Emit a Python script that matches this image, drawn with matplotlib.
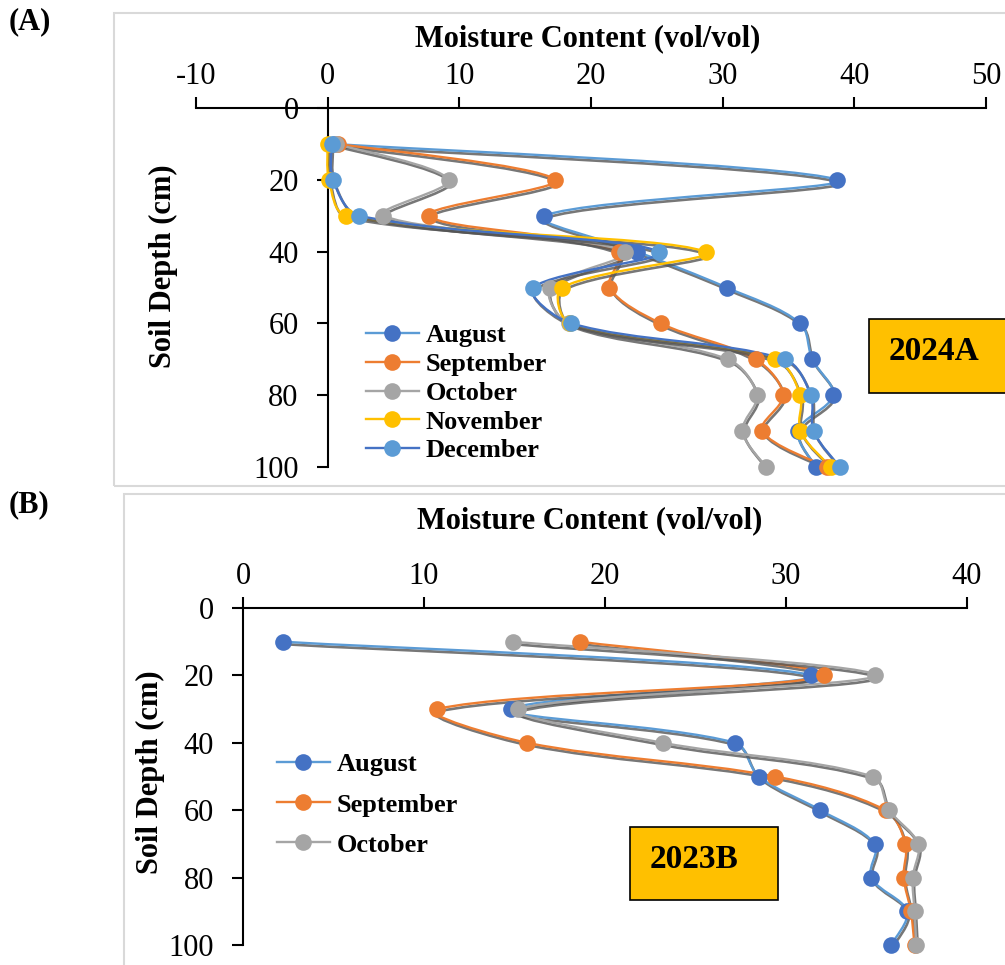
import numpy as np
import matplotlib
matplotlib.use('Agg')
import matplotlib.pyplot as plt
import matplotlib.transforms as mtrans
from matplotlib.path import Path
from matplotlib.patches import PathPatch, Rectangle
from matplotlib.lines import Line2D

plt.rcParams['font.family'] = ['Liberation Serif', 'DejaVu Serif']
plt.rcParams['axes.unicode_minus'] = False

# soil depth (cm), shared by both panels
depth = [10, 20, 30, 40, 50, 60, 70, 80, 90, 100]

# panel A (2024A) moisture content, vol/vol
months_a = ['August', 'September', 'October', 'November', 'December']
aug_a = [0.5, 38.7, 16.4, 23.5, 30.3, 35.9, 36.8, 38.4, 35.7, 37.1]
sep_a = [0.8, 17.3, 7.7, 22.1, 21.4, 25.3, 32.5, 34.6, 33.0, 37.9]
oct_a = [0.6, 9.2, 4.2, 22.6, 16.9, 18.3, 30.4, 32.6, 31.5, 33.3]
nov_a = [0.0, 0.1, 1.4, 28.7, 17.8, 18.4, 34.0, 35.9, 35.9, 38.2]
dec_a = [0.3, 0.4, 2.4, 25.2, 15.6, 18.5, 34.7, 36.7, 36.9, 38.9]

# panel B (2023B)
months_b = ['August', 'September', 'October']
aug_b = [2.2, 31.4, 14.8, 27.2, 28.5, 31.9, 34.9, 34.7, 36.7, 35.8]
sep_b = [18.6, 32.1, 10.7, 15.7, 29.4, 35.5, 36.6, 36.5, 36.9, 37.1]
oct_b = [14.9, 34.9, 15.2, 23.2, 34.8, 35.7, 37.3, 37.0, 37.1, 37.2]

# excel colours: (line colour, marker colour)
cols = {'August': ('#5B9BD5', '#4472C4'),
        'September': ('#ED7D31', '#ED7D31'),
        'October': ('#A5A5A5', '#A5A5A5'),
        'November': ('#FFC000', '#FFC000'),
        'December': ('#4472C4', '#5B9BD5')}

W, H = 1005, 965


def fx(px):
    return px / W


def fy(py):
    return 1 - py / H


def smooth_path(ax, x, y):
    # bezier smoothing done in pixel space, tangents weighted by segment length
    p = ax.transData.transform(np.column_stack([x, y]).astype(float))
    n = len(p)
    d = np.hypot(*np.diff(p, axis=0).T)
    verts = [p[0]]
    codes = [Path.MOVETO]
    for i in range(n - 1):
        a = p[i - 1] if i > 0 else p[i]
        b = p[i + 2] if i + 2 < n else p[i + 1]
        din = d[i - 1] if i > 0 else d[i]
        dout = d[i + 1] if i + 2 < n else d[i]
        c1 = p[i] + (p[i + 1] - a) * d[i] / (din + d[i]) / 3
        c2 = p[i + 1] - (b - p[i]) * d[i] / (d[i] + dout) / 3
        verts += [c1, c2, p[i + 1]]
        codes += [Path.CURVE4] * 3
    verts = ax.transData.inverted().transform(np.array(verts))
    return Path(verts, codes)


def draw_series(ax, vals, month):
    lc, mc = cols[month]
    path = smooth_path(ax, vals, depth)
    shadow = PathPatch(path, fill=False, ec='#555555', lw=1.9, alpha=0.8,
                       clip_on=False, zorder=3)
    shadow.set_transform(ax.transData + mtrans.ScaledTranslation(
        1.5 / 100, -2.5 / 100, ax.figure.dpi_scale_trans))
    ax.add_patch(shadow)
    ax.add_patch(PathPatch(path, fill=False, ec=lc, lw=1.7, clip_on=False, zorder=3))
    ax.plot(vals, depth, 'o', ms=12, mfc=mc, mec=mc, mew=0, clip_on=False, zorder=4)
    return Line2D([], [], color=lc, lw=1.7, marker='o', ms=12, mfc=mc, mec=mc, mew=0)


def setup(ax, xlim, xticks):
    ax.set_xlim(xlim)
    ax.set_ylim(100, 0)
    ax.set_xticks(xticks)
    ax.set_yticks([0, 20, 40, 60, 80, 100])
    ax.spines['left'].set_position(('data', 0))
    ax.spines['right'].set_visible(False)
    ax.spines['bottom'].set_visible(False)
    for s in ['left', 'top']:
        ax.spines[s].set_linewidth(1.5)
    ax.xaxis.tick_top()
    ax.tick_params(axis='x', direction='out', length=8, width=1.5, labelsize=22, pad=4)
    ax.tick_params(axis='y', direction='out', length=8, width=1.5, labelsize=22, pad=13)
    ax.patch.set_alpha(0)


fig = plt.figure(figsize=(W / 100, H / 100), dpi=100)

# light grey chart frames
fig.add_artist(Rectangle((fx(114), fy(486)), fx(1010) - fx(114), fy(13) - fy(486),
                         transform=fig.transFigure, fill=False, ec='#D9D9D9', lw=1.5))
fig.add_artist(Rectangle((fx(124), fy(975)), fx(1010) - fx(124), fy(494) - fy(975),
                         transform=fig.transFigure, fill=False, ec='#D9D9D9', lw=1.5))

# ---- panel A
axA = fig.add_axes([fx(196), fy(467), fx(986) - fx(196), fy(108) - fy(467)])
setup(axA, (-10, 50), [-10, 0, 10, 20, 30, 40, 50])
handles_a = []
for m, v in zip(months_a, [aug_a, sep_a, oct_a, nov_a, dec_a]):
    handles_a.append(draw_series(axA, v, m))
axA.legend(handles_a, months_a, loc='upper left', bbox_to_anchor=(fx(366), fy(324)),
           bbox_transform=fig.transFigure, frameon=False, borderpad=0, borderaxespad=0,
           handlelength=2.0, handletextpad=0.25, labelspacing=0.2,
           prop={'weight': 'bold', 'size': 19})

# ---- panel B
axB = fig.add_axes([fx(243), fy(945), fx(967) - fx(243), fy(608) - fy(945)])
setup(axB, (0, 40), [0, 10, 20, 30, 40])
handles_b = []
for m, v in zip(months_b, [aug_b, sep_b, oct_b]):
    handles_b.append(draw_series(axB, v, m))
axB.legend(handles_b, months_b, loc='upper left', bbox_to_anchor=(fx(277), fy(753)),
           bbox_transform=fig.transFigure, frameon=False, borderpad=0, borderaxespad=0,
           handlelength=2.0, handletextpad=0.25, labelspacing=0.63,
           prop={'weight': 'bold', 'size': 19})

# titles and axis labels
fig.text(fx(588), fy(39), 'Moisture Content (vol/vol)', ha='center', va='center',
         fontsize=22, fontweight='bold')
fig.text(fx(590), fy(521), 'Moisture Content (vol/vol)', ha='center', va='center',
         fontsize=22, fontweight='bold')
fig.text(fx(163), fy(266), 'Soil Depth (cm)', rotation=90, ha='center', va='center',
         fontsize=22, fontweight='bold')
fig.text(fx(150), fy(772), 'Soil Depth (cm)', rotation=90, ha='center', va='center',
         fontsize=22, fontweight='bold')
fig.text(fx(9), fy(22), '(A)', ha='left', va='center', fontsize=22, fontweight='bold')
fig.text(fx(9), fy(505), '(B)', ha='left', va='center', fontsize=22, fontweight='bold')

# year boxes
fig.add_artist(Rectangle((fx(869), fy(393)), fx(1010) - fx(869), fy(319) - fy(393),
                         transform=fig.transFigure, fc='#FFC000', ec='black', lw=1.2))
fig.text(fx(889), fy(352), '2024A', ha='left', va='center', fontsize=24, fontweight='bold')
fig.add_artist(Rectangle((fx(630), fy(900)), fx(778) - fx(630), fy(827) - fy(900),
                         transform=fig.transFigure, fc='#FFC000', ec='black', lw=1.2))
fig.text(fx(650), fy(860), '2023B', ha='left', va='center', fontsize=24, fontweight='bold')

fig.savefig('out.png', dpi=100)
